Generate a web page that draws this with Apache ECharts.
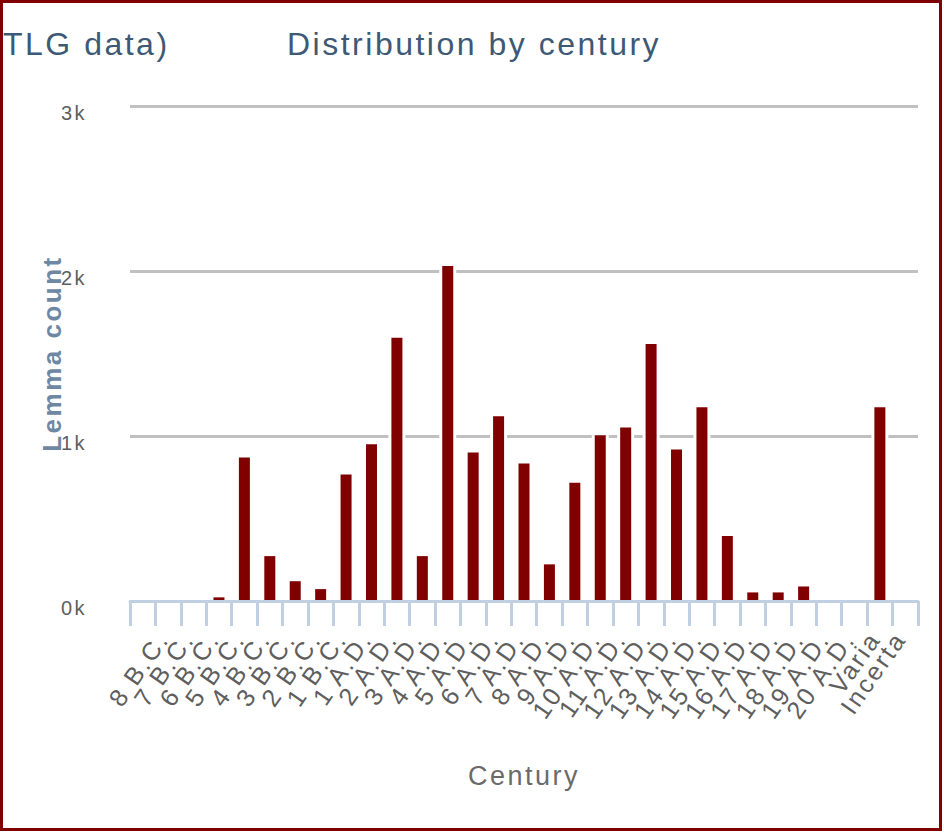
<!DOCTYPE html>
<html><head><meta charset="utf-8">
<script src="https://cdn.jsdelivr.net/npm/echarts@6/dist/echarts.min.js"></script>
<style>
html,body{margin:0;padding:0;background:#fff;}
#chart{position:absolute;left:0;top:0;width:944px;height:833px;}
#chart text{letter-spacing:2.5px;}
#frame{position:absolute;left:0;top:0;width:936px;height:825px;border:3px solid #800000;pointer-events:none;}
</style></head><body>
<div id="chart"></div><div id="frame"></div>
<script>
const categories = ['8 B.C.','7 B.C.','6 B.C.','5 B.C.','4 B.C.','3 B.C.','2 B.C.','1 B.C.',
  '1 A.D.','2 A.D.','3 A.D.','4 A.D.','5 A.D.','6 A.D.','7 A.D.','8 A.D.','9 A.D.','10 A.D.',
  '11 A.D.','12 A.D.','13 A.D.','14 A.D.','15 A.D.','16 A.D.','17 A.D.','18 A.D.','19 A.D.','20 A.D.',
  'Varia','Incerta',''];
const lemmaCounts = [0,0,0,22,870,272,120,72,
  766,950,1595,272,2030,900,1120,833,222,717,
  1004,1052,1558,918,1175,394,52,52,88,0,
  0,1175,0];
const yTickLabels = ['0k','1k','2k','3k'];
const titleText = 'Distribution by century';
const clippedTitleText = 'TLG data)';
const xAxisTitle = 'Century';
const yAxisTitle = 'Lemma count';

const chart = echarts.init(document.getElementById('chart'), null, {renderer:'svg'});
const FONT = 'Liberation Sans';
chart.setOption({
  animation:false,
  grid:{left:130,right:26,top:106,bottom:232,containLabel:false,outerBoundsMode:'none'},
  graphic:[
    {type:'text',x:287,y:44,style:{text:titleText,font:'32px "Liberation Sans"',fill:'#3e5975',textAlign:'left',align:'left',textVerticalAlign:'middle',verticalAlign:'middle'}},
    {type:'text',x:3,y:44,style:{text:clippedTitleText,font:'32px "Liberation Sans"',fill:'#3e5975',textAlign:'left',align:'left',textVerticalAlign:'middle',verticalAlign:'middle'}}
  ],
  xAxis:[
    {type:'category',data:categories,z:3,
     axisLine:{show:true,lineStyle:{color:'#c0d0e0',width:3}},
     axisTick:{show:true,interval:0,alignWithLabel:false,length:25,lineStyle:{color:'#c0d0e0',width:3}},
     axisLabel:{interval:0,rotate:55,fontSize:25,fontFamily:FONT,color:'#5e5e5e',margin:19,verticalAlign:'top',lineHeight:49},
     name:xAxisTitle,nameLocation:'middle',nameGap:161,
     nameTextStyle:{fontSize:27,color:'#6a6a6a',fontFamily:FONT}},
    {type:'category',data:categories,show:false}
  ],
  yAxis:{type:'value',min:0,max:3000,interval:1000,
    axisLine:{show:false},axisTick:{show:false},
    splitLine:{lineStyle:{color:'#c0c0c0',width:3}},
    axisLabel:{formatter:v=>yTickLabels[Math.round(v/1000)],fontSize:20,color:'#5e5e5e',fontFamily:FONT,margin:43,verticalAlign:'top',lineHeight:14},
    name:yAxisTitle,nameLocation:'middle',nameGap:65,nameMoveOverlap:false,
    nameTextStyle:{fontSize:26,fontWeight:'bold',color:'#6e88a3',fontFamily:FONT}},
  series:[
    {type:'bar',xAxisIndex:1,data:lemmaCounts,barWidth:17,itemStyle:{color:'#ffffff'},z:1,silent:true},
    {type:'bar',xAxisIndex:0,data:lemmaCounts,barWidth:11,itemStyle:{color:'#800000'},z:2}
  ]
});
</script>
</body></html>
